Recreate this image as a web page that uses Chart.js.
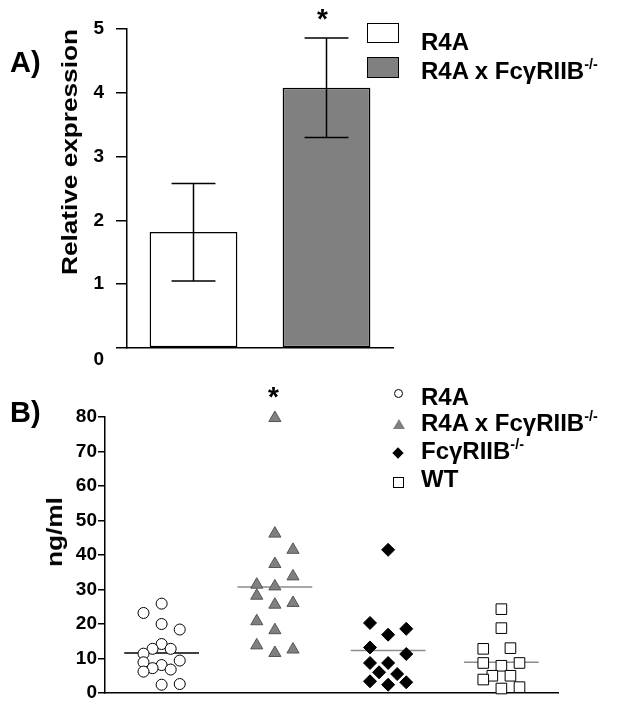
<!DOCTYPE html>
<html lang="en">
<head>
    <meta charset="UTF-8">
    <title>Relative expression and ng/ml</title>
    <script src="https://cdn.jsdelivr.net/npm/chart.js"></script>
    <style>
        body {
            margin: 0;
            background: #fff;
            font-family: 'Liberation Sans', Arial, sans-serif;
        }
        #page {
            position: relative;
            width: 632px;
            height: 713px;
            overflow: hidden;
        }
        canvas {
            position: absolute;
            left: 0;
        }
        #chartA { top: 0; }
        #chartB { top: 380px; }
        .txt {
            position: absolute;
            font-weight: bold;
            color: #000;
            white-space: nowrap;
        }
        .rot {
            transform: translate(-50%, -50%) rotate(-90deg) scaleX(1.19);
            line-height: 1;
        }
        .leg {
            font-size: 24px;
            line-height: 30px;
            left: 421px;
        }
        sup {
            font-size: 0.6em;
            vertical-align: 0.7em;
            line-height: 0;
        }
        .box {
            position: absolute;
            box-sizing: border-box;
            border: 1.5px solid #000;
        }
        .mk { position: absolute; box-sizing: border-box; }
    </style>
</head>
<body>
<div id="page">
    <canvas id="chartA" width="632" height="384"></canvas>
    <canvas id="chartB" width="632" height="333"></canvas>

    <!-- panel A texts -->
    <div class="txt" style="left:10px; top:46px; font-size:29px; line-height:32px;">A)</div>
    <div class="txt rot" style="left:70px; top:152px; font-size:22px;">Relative expression</div>
    <div class="txt" style="left:317px; top:5px; font-size:28px; line-height:28px;">*</div>
    <div class="box" style="left:367px; top:23px; width:32px; height:20px; background:#fff;"></div>
    <div class="box" style="left:367px; top:57px; width:32px; height:21px; background:#808080;"></div>
    <div class="txt leg" style="top:27px;">R4A</div>
    <div class="txt leg" style="top:56px;">R4A x Fc&gamma;RIIB<sup>-/-</sup></div>

    <!-- panel B texts -->
    <div class="txt" style="left:10px; top:396px; font-size:29px; line-height:32px;">B)</div>
    <div class="txt rot" style="left:55px; top:532px; font-size:22px;">ng/ml</div>
    <div class="txt" style="left:268px; top:383px; font-size:28px; line-height:28px;">*</div>

    <div class="mk" style="left:394px; top:389px; width:9px; height:9px; border:1px solid #000; border-radius:50%; background:#fff;"></div>
    <div class="mk" style="left:393px; top:419px; width:0; height:0; border-left:6px solid transparent; border-right:6px solid transparent; border-bottom:10px solid #808080;"></div>
    <div class="mk" style="left:394px; top:449px; width:8px; height:8px; background:#000; transform:rotate(45deg);"></div>
    <div class="mk" style="left:393px; top:477px; width:11px; height:11px; border:1px solid #000; background:#fff;"></div>
    <div class="txt leg" style="top:382px;">R4A</div>
    <div class="txt leg" style="top:408px;">R4A x Fc&gamma;RIIB<sup>-/-</sup></div>
    <div class="txt leg" style="top:436px;">Fc&gamma;RIIB<sup>-/-</sup></div>
    <div class="txt leg" style="top:464px;">WT</div>
</div>

<script>
    // ---- panel A: relative expression (mean, error bar low/high) ----
    const barLabels = ['R4A', 'R4A x FcγRIIB-/-'];
    const barMeans = [1.82, 4.08];
    const barLow = [1.05, 3.30];
    const barHigh = [2.58, 4.86];
    const barColors = ['#ffffff', '#808080'];

    // ---- panel B: ng/ml, one x (jittered group position) and y per point ----
    const groupNames = ['R4A', 'R4A x FcγRIIB-/-', 'FcγRIIB-/-', 'WT'];
    const r4aX = [1.0, 0.84, 1.0, 1.16, 1.0, 0.92, 1.08, 0.84, 1.16, 0.84, 1.0, 0.92, 1.08, 0.84, 1.0, 1.16];
    const r4aY = [25.9, 23.2, 20.0, 18.4, 14.2, 12.8, 12.8, 11.4, 9.4, 8.9, 8.1, 7.2, 6.8, 6.2, 2.4, 2.6];
    const dkoX = [2.0, 2.0, 2.16, 2.0, 2.16, 1.84, 2.0, 1.84, 2.0, 2.16, 1.84, 2.0, 1.84, 2.0, 2.16];
    const dkoY = [79.7, 46.2, 41.5, 37.4, 33.8, 31.4, 30.9, 28.2, 25.6, 26.1, 20.8, 18.2, 13.8, 11.6, 12.6];
    const fcX = [3.0, 2.84, 3.0, 3.16, 2.84, 3.16, 2.84, 3.0, 2.92, 3.08, 2.84, 3.0, 3.16];
    const fcY = [41.5, 20.3, 16.9, 18.6, 13.2, 11.3, 8.7, 8.7, 6.0, 5.5, 3.4, 2.4, 3.1];
    const wtX = [4.0, 4.0, 3.84, 4.08, 3.84, 4.0, 4.16, 3.92, 4.08, 3.84, 4.0, 4.16];
    const wtY = [24.3, 18.8, 12.8, 13.0, 8.7, 7.9, 8.7, 5.0, 5.0, 3.9, 1.3, 1.7];
    const groupCenters = [1, 2, 3, 4];
    const medians = [11.6, 30.7, 12.3, 8.9];
    const medianColors = ['#000000', '#8c8c8c', '#8c8c8c', '#8c8c8c'];

    const tickFont = { family: "'Liberation Sans', Arial, sans-serif", weight: 'bold' };

    // error bars on panel A
    const errorBars = {
        id: 'errorBars',
        afterDatasetsDraw(chart) {
            const ctx = chart.ctx;
            const meta = chart.getDatasetMeta(0);
            const y = chart.scales.y;
            ctx.save();
            ctx.strokeStyle = '#000';
            ctx.lineWidth = 1.5;
            meta.data.forEach((bar, i) => {
                const yl = y.getPixelForValue(barLow[i]);
                const yh = y.getPixelForValue(barHigh[i]);
                const cap = bar.width / 4;
                ctx.beginPath();
                ctx.moveTo(bar.x, yl);
                ctx.lineTo(bar.x, yh);
                ctx.moveTo(bar.x - cap, yh);
                ctx.lineTo(bar.x + cap, yh);
                ctx.moveTo(bar.x - cap, yl);
                ctx.lineTo(bar.x + cap, yl);
                ctx.stroke();
            });
            ctx.restore();
        }
    };

    new Chart(document.getElementById('chartA'), {
        type: 'bar',
        data: {
            labels: barLabels,
            datasets: [{
                data: barMeans,
                backgroundColor: barColors,
                borderColor: '#000',
                borderWidth: 1.5,
                borderSkipped: false,
                barPercentage: 0.66,
                categoryPercentage: 1
            }]
        },
        options: {
            responsive: false,
            animation: false,
            layout: { padding: { left: 0, right: 239, top: 29, bottom: 36 } },
            plugins: { legend: { display: false }, tooltip: { enabled: false } },
            scales: {
                x: {
                    grid: { display: false },
                    ticks: { display: false },
                    border: { display: true, color: '#000', width: 1.5 },
                    afterFit: (s) => { s.height = 0; }
                },
                y: {
                    min: 0,
                    max: 5,
                    ticks: {
                        stepSize: 1,
                        color: '#000',
                        padding: 12,
                        font: { ...tickFont, size: 19 },
                        // zero label sits below the axis in the original
                        callback: (v) => v === 0 ? ['', '0'] : String(v)
                    },
                    grid: { drawOnChartArea: false, drawTicks: true, tickLength: 11, color: '#000', lineWidth: 1.5 },
                    border: { display: true, color: '#000', width: 1.5 },
                    afterFit: (s) => { s.width = 127; }
                }
            }
        },
        plugins: [errorBars]
    });

    const toPts = (xs, ys) => xs.map((x, i) => ({ x: x, y: ys[i] }));
    const medianSets = groupCenters.map((c, i) => ({
        type: 'line',
        label: groupNames[i] + ' median',
        data: [{ x: c - 0.33, y: medians[i] }, { x: c + 0.33, y: medians[i] }],
        borderColor: medianColors[i],
        borderWidth: 1.5,
        pointRadius: 0,
        showLine: true,
        order: 2
    }));

    new Chart(document.getElementById('chartB'), {
        type: 'scatter',
        data: {
            datasets: [
                ...medianSets,
                { label: groupNames[0], data: toPts(r4aX, r4aY), pointStyle: 'circle', radius: 5.5,
                  backgroundColor: '#fff', borderColor: '#000', borderWidth: 1, order: 1, clip: false },
                { label: groupNames[1], data: toPts(dkoX, dkoY), pointStyle: 'triangle', radius: 7,
                  backgroundColor: '#808080', borderColor: '#555', borderWidth: 1, order: 1, clip: false },
                { label: groupNames[2], data: toPts(fcX, fcY), pointStyle: 'rectRot', radius: 6.5,
                  backgroundColor: '#000', borderColor: '#000', borderWidth: 1, order: 1, clip: false },
                { label: groupNames[3], data: toPts(wtX, wtY), pointStyle: 'rect', radius: 7.5,
                  backgroundColor: '#fff', borderColor: '#000', borderWidth: 1, order: 1, clip: false }
            ]
        },
        options: {
            responsive: false,
            animation: false,
            layout: { padding: { left: 0, right: 74, top: 37, bottom: 20 } },
            plugins: { legend: { display: false }, tooltip: { enabled: false } },
            scales: {
                x: {
                    type: 'linear',
                    min: 0.5,
                    max: 4.5,
                    grid: { display: false },
                    ticks: { display: false },
                    border: { display: true, color: '#000', width: 1.5 },
                    afterFit: (s) => { s.height = 0; }
                },
                y: {
                    min: 0,
                    max: 80,
                    ticks: { stepSize: 10, color: '#000', padding: 1, font: { ...tickFont, size: 19 } },
                    grid: { drawOnChartArea: false, drawTicks: true, tickLength: 7, color: '#000', lineWidth: 1.5 },
                    border: { display: true, color: '#000', width: 1.5 },
                    afterFit: (s) => { s.width = 105; }
                }
            }
        }
    });
</script>
</body>
</html>
